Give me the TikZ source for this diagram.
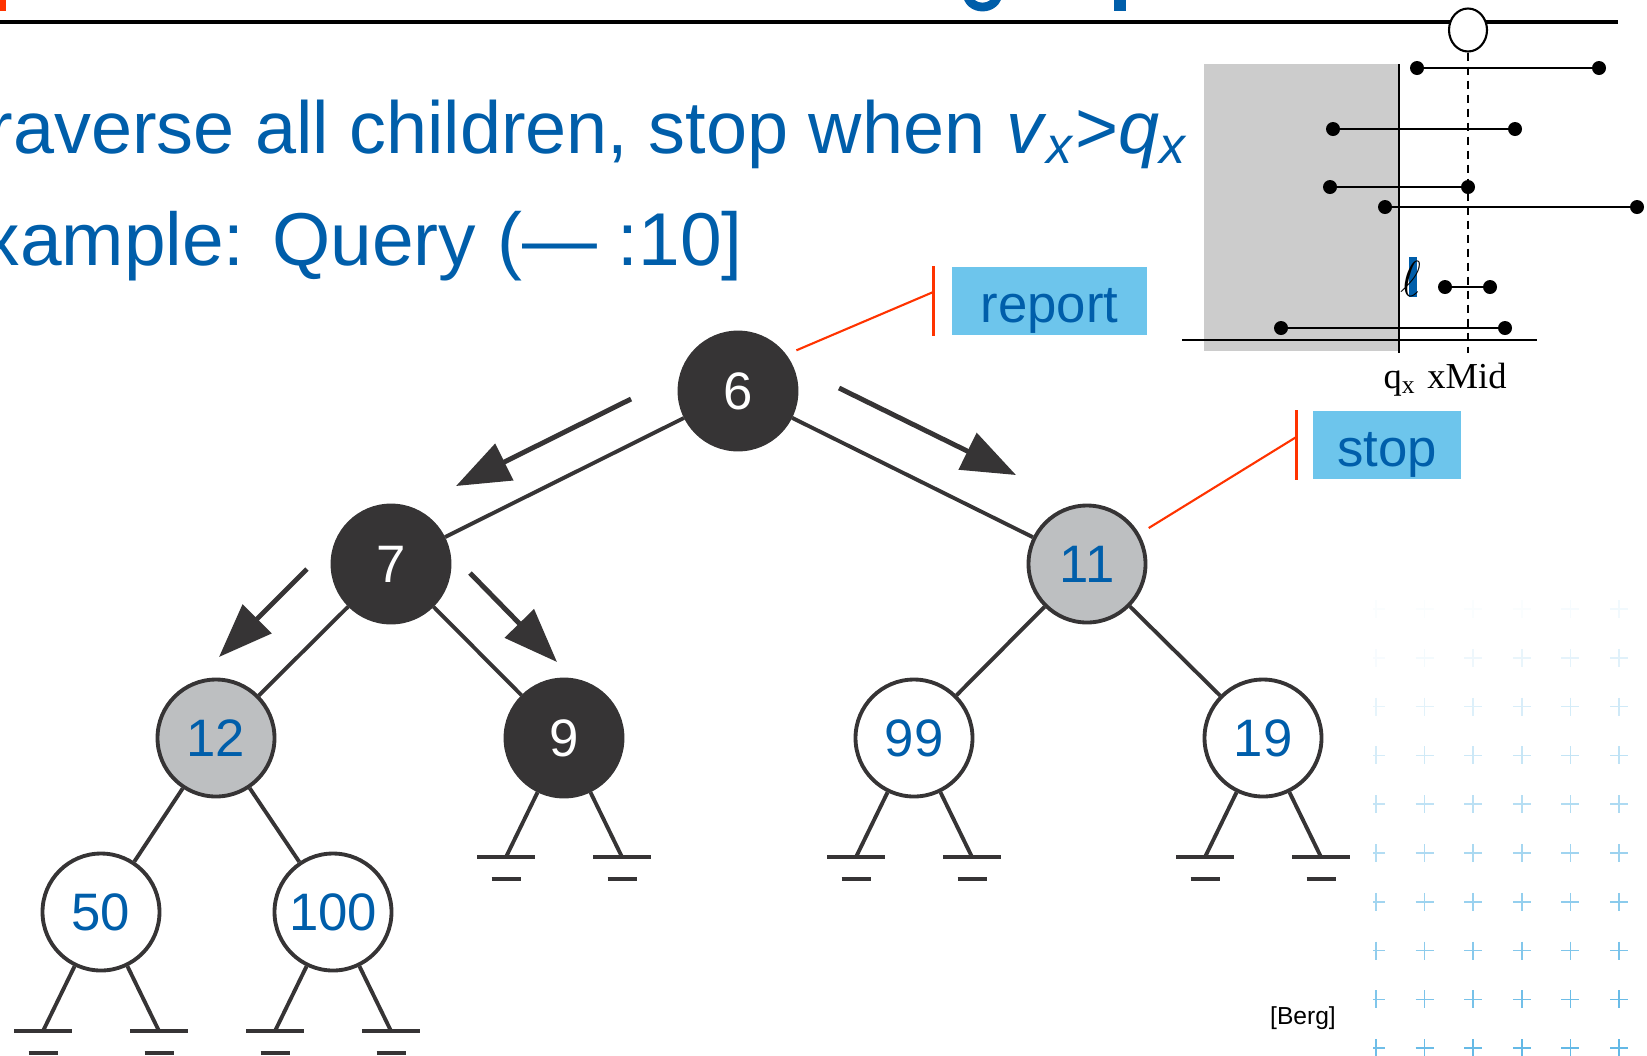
\documentclass[tikz,border=0pt]{standalone}
\usepackage{fontspec}
\setmainfont{Liberation Sans}
\newfontfamily\figserif{Liberation Serif}
\usetikzlibrary{arrows.meta,calc,shapes.geometric}

\definecolor{slideblue}{RGB}{0,94,170}
\definecolor{nodedark}{RGB}{54,52,53}
\definecolor{nodegray}{RGB}{189,191,193}
\definecolor{calloutblue}{RGB}{109,197,236}
\definecolor{calloutred}{RGB}{255,51,0}
\definecolor{shadegray}{RGB}{204,204,204}
\definecolor{plusblue}{RGB}{100,185,230}

\tikzset{
  tnode/.style = {circle, draw=nodedark, line width=1.1pt,
                  minimum size=11.7mm, inner sep=0pt,
                  font=\fontsize{15}{15}\selectfont},
  dark/.style  = {tnode, fill=nodedark, text=white},
  grey/.style  = {tnode, fill=nodegray, text=slideblue},
  plain/.style = {tnode, fill=white, text=slideblue},
  treeline/.style = {draw=nodedark, line width=1.1pt},
  walk/.style  = {nodedark, line width=1.4pt,
                  -{Triangle[length=5.4mm,width=4mm]}},
  ground/.style = {nodedark, line width=1.4pt},
  tag/.style   = {fill=calloutblue, text=slideblue, inner sep=0pt,
                  text height=5.5mm, text depth=1.3mm,
                  font=\fontsize{15}{15}\selectfont},
  tagbar/.style  = {calloutred, line width=0.85pt},
  tagline/.style = {calloutred, line width=0.6pt},
  seg/.style   = {line width=0.6pt},
}

\begin{document}
\begin{tikzpicture}[x=0.1mm, y=-0.1mm]
  \useasboundingbox (0,0) rectangle (1647,1055);
  \clip (0,0) rectangle (1647,1055);

  % cut-off title and rule
  \fill[calloutred] (0,0) rectangle (6,11);
  \draw[slideblue, line width=2.5pt] (967,-8) .. controls (967,12) and (998,12) .. (998,-8);
  \fill[slideblue] (1114,0) rectangle (1126,11);
  \draw[line width=1.14pt] (0,21.7) -- (1618,21.7);

  % text lines
  \node[anchor=base west, inner sep=0pt, text=slideblue,
        font=\fontsize{21}{21}\selectfont] (line1) at (-12,153)
       {raverse all children, stop when \textit{v}\textsubscript{\textit{x}}>\textit{q}\textsubscript{\textit{x}}};
  \node[anchor=base west, inner sep=0pt, text=slideblue,
        font=\fontsize{21.3}{21}\selectfont] (line2) at (-18,265)
       {xample: Query (— :10]};

  % interval sketch
  \fill[shadegray] (1204,64) rectangle (1399,351);
  \draw[line width=0.6pt] (1399,64) -- (1399,353);
  \draw[line width=0.8pt] (1182,340) -- (1537,340);
  \node[ellipse, draw, fill=white, line width=0.6pt, inner sep=0pt,
        minimum width=3.8mm, minimum height=4.3mm] (mid) at (1468,30) {};
  \draw[line width=0.6pt, dash pattern=on 0.8mm off 0.6mm] (mid.south) -- (1468,353);
  \foreach \y/\a/\b in {68/1417/1599, 129/1333/1515, 187/1330/1468,
                        207/1385/1637, 287/1445/1490, 328/1281/1505}{
    \draw[seg] (\a,\y) -- (\b,\y);
    \fill (\a,\y) circle[radius=0.7mm] (\b,\y) circle[radius=0.7mm];
  }
  \fill[slideblue] (1409,257) rectangle (1417,297);
  \node[inner sep=0pt, font=\fontsize{15}{15}\selectfont] (ell) at (1411,279) {$\ell$};
  \node[anchor=base, inner sep=0pt, font=\figserif\fontsize{10.4}{12}\selectfont] (qx) at (1400,388) {q\textsubscript{x}};
  \node[anchor=base, inner sep=0pt, font=\figserif\fontsize{10.4}{12}\selectfont] (xm) at (1467,388) {xMid};

  % tree
  \node[dark]  (n6)   at (738,391) {6};
  \node[dark]  (n7)   at (391,564) {7};
  \node[grey]  (n11)  at (1087,564) {11};
  \node[grey]  (n12)  at (216,738) {12};
  \node[dark]  (n9)   at (564,738) {9};
  \node[plain] (n99)  at (914,738) {99};
  \node[plain] (n19)  at (1263,738) {19};
  \node[plain] (n50)  at (101,912) {50};
  \node[plain] (n100) at (333,912) {100};

  \draw[treeline] (n6) -- (n7) (n6) -- (n11) (n7) -- (n12) (n7) -- (n9)
                  (n11) -- (n99) (n11) -- (n19) (n12) -- (n50) (n12) -- (n100);

  % nil children
  \foreach \nd in {n50,n100,n9,n99,n19}{
    \foreach \sd/\dx in {l/-58,r/58}{
      \coordinate (\nd\sd) at ($(\nd)+(\dx,119)$);
      \draw[treeline] (\nd) -- (\nd\sd);
      \draw[ground] ($(\nd\sd)+(-29,0)$) -- ($(\nd\sd)+(29,0)$);
      \draw[ground] ($(\nd\sd)+(-14.5,22)$) -- ($(\nd\sd)+(14.5,22)$);
    }
  }

  % traversal arrows
  \coordinate (w1a) at (631,399);  \coordinate (w1b) at (456,486);
  \coordinate (w2a) at (839,388);  \coordinate (w2b) at (1016,475);
  \coordinate (w3a) at (307,569);  \coordinate (w3b) at (219,657);
  \coordinate (w4a) at (470,573);  \coordinate (w4b) at (557,662);
  \draw[walk] (w1a) -- (w1b);
  \draw[walk] (w2a) -- (w2b);
  \draw[walk] (w3a) -- (w3b);
  \draw[walk] (w4a) -- (w4b);

  % callouts
  \node[tag, minimum width=19.5mm] (rep) at (1049.5,301) {report};
  \node[tag, minimum width=14.8mm] (stp) at (1387,445) {stop};
  \draw[tagbar] ([xshift=-1.8mm]rep.north west) -- ([xshift=-1.8mm]rep.south west);
  \draw[tagline, shorten <=1.1mm] (n6.37) -- ([xshift=-1.8mm,yshift=0.9mm]rep.west);
  \draw[tagbar] ([xshift=-1.6mm]stp.north west) -- ([xshift=-1.6mm]stp.south west);
  \draw[tagline, shorten <=1.1mm] (n11.30) -- ([xshift=-1.6mm,yshift=0.8mm]stp.west);

  % background crosses
  \begin{scope}
    \clip (1373,560) rectangle (1647,1055);
    \foreach \i in {0,...,5}{
      \foreach \j in {0,...,9}{
        \pgfmathsetmacro\op{max(0.03,min(1,-0.06+0.11*\j+0.03*\i))}
        \pgfmathsetmacro\px{1376+48.6*\i}
        \pgfmathsetmacro\py{609+48.8*\j}
        \draw[plusblue, line width=0.45pt, opacity=\op]
          (\px-9,\py) -- (\px+9,\py) (\px,\py-9) -- (\px,\py+9);
      }
    }
  \end{scope}

  \node[inner sep=0pt, font=\fontsize{7}{8}\selectfont] (cite) at (1303,1018) {[Berg]};
\end{tikzpicture}
\end{document}
